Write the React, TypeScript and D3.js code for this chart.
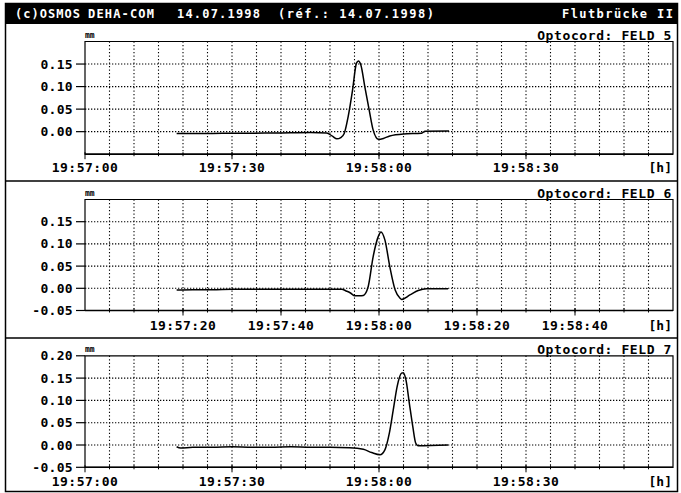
import React, { useEffect, useRef } from "react";
import * as d3 from "d3";

const width = 681;
const height = 493;

// time axis (same for all three fields)
const timeStart = "19:57:00";
const timeEnd = "19:59:00";

// seconds after 19:57:00 and displacement in mm
const feld5Seconds = [18.7, 22, 26, 30, 34, 38, 42, 46, 49.3, 50.5, 51.4, 52.2, 52.9, 53.7, 54.6, 55.4, 55.8, 56.3, 57.1, 58.0, 58.8, 59.9, 60.9, 62.2, 65.0, 68.7, 69.4, 74.3];
const feld5Values = [-0.004, -0.004, -0.004, -0.0035, -0.0035, -0.003, -0.0025, -0.002, -0.003, -0.01, -0.016, -0.013, -0.004, 0.033, 0.092, 0.152, 0.157, 0.148, 0.1, 0.048, 0.004, -0.017, -0.015, -0.0095, -0.005, -0.0035, 0.001, 0.0015];

const feld6Seconds = [18.7, 22, 26, 30, 34, 38, 42, 46, 50, 52.4, 53.3, 54.1, 55.1, 56.0, 56.8, 57.8, 58.8, 59.9, 60.4, 61.2, 62.2, 63.3, 64.3, 64.6, 66.3, 68.0, 69.7, 74.1];
const feld6Values = [-0.004, -0.003, -0.003, -0.002, -0.002, -0.002, -0.002, -0.002, -0.002, -0.002, -0.006, -0.01, -0.017, -0.017, -0.016, 0.004, 0.071, 0.118, 0.127, 0.109, 0.049, -0.004, -0.0225, -0.025, -0.015, -0.005, -0.001, -0.001];

const feld7Seconds = [18.7, 19.5, 22, 26, 30, 34, 38, 42, 46, 50, 54, 56.8, 58.5, 60.2, 61.2, 62.1, 62.9, 63.7, 64.6, 64.96, 65.5, 66.2, 66.9, 67.5, 68.0, 74.1];
const feld7Values = [-0.004, -0.007, -0.005, -0.005, -0.004, -0.005, -0.005, -0.004, -0.005, -0.005, -0.006, -0.0097, -0.017, -0.022, -0.011, 0.026, 0.078, 0.131, 0.161, 0.162, 0.146, 0.093, 0.041, 0.004, -0.0015, 0.0];

// tick labels
const feld5TimeLabels = ["19:57:00", "19:57:30", "19:58:00", "19:58:30"];
const feld6TimeLabels = ["19:57:20", "19:57:40", "19:58:00", "19:58:20", "19:58:40"];
const feld7TimeLabels = ["19:57:00", "19:57:30", "19:58:00", "19:58:30"];
const feld5YTicks = [0, 0.05, 0.1, 0.15];
const feld6YTicks = [-0.05, 0, 0.05, 0.1, 0.15];
const feld7YTicks = [-0.05, 0, 0.05, 0.1, 0.15, 0.2];

const font = "'DejaVu Sans Mono', 'Liberation Mono', monospace";
const parseTime = d3.timeParse("%H:%M:%S");

function App() {
  const ref = useRef<SVGSVGElement>(null);

  useEffect(() => {
    const svg = d3.select(ref.current);
    svg.selectAll("*").remove();

    const t0 = parseTime(timeStart)!;
    const t1 = parseTime(timeEnd)!;
    const left = 85;
    const right = 673;

    // outer frame + header
    svg.append("rect")
      .attr("x", 5.5).attr("y", 3.5).attr("width", 672).attr("height", 488)
      .attr("fill", "none").attr("stroke", "#000").attr("stroke-width", 1.5);
    svg.append("rect")
      .attr("x", 6).attr("y", 4).attr("width", 671).attr("height", 20)
      .attr("fill", "#000");

    const header = [
      { text: "(c)OSMOS", x: 15, len: 65 },
      { text: "DEHA-COM", x: 88, len: 66 },
      { text: "14.07.1998", x: 177, len: 83 },
      { text: "(réf.: 14.07.1998)", x: 278, len: 156 },
      { text: "Flutbrücke II", x: 562, len: 111 },
    ];
    svg.append("g")
      .selectAll("text")
      .data(header)
      .join("text")
      .attr("x", (d) => d.x)
      .attr("y", 18)
      .attr("textLength", (d) => d.len)
      .attr("lengthAdjust", "spacing")
      .attr("fill", "#fff")
      .style("font", `bold 12px ${font}`)
      .text((d) => d.text);

    // separators between the fields
    [181, 338].forEach((y) => {
      svg.append("line")
        .attr("x1", 5).attr("x2", 677).attr("y1", y).attr("y2", y)
        .attr("stroke", "#000").attr("stroke-width", 1.3);
    });

    const panels = [
      { title: "Optocord: FELD 5", secs: feld5Seconds, vals: feld5Values, labels: feld5TimeLabels, yTicks: feld5YTicks, top: 41.5, bottom: 154.2, labelY: 171.5 },
      { title: "Optocord: FELD 6", secs: feld6Seconds, vals: feld6Values, labels: feld6TimeLabels, yTicks: feld6YTicks, top: 199.5, bottom: 310.5, labelY: 330 },
      { title: "Optocord: FELD 7", secs: feld7Seconds, vals: feld7Values, labels: feld7TimeLabels, yTicks: feld7YTicks, top: 355.8, bottom: 467.3, labelY: 486 },
    ];

    panels.forEach((p) => {
      const g = svg.append("g");
      const x = d3.scaleTime().domain([t0, t1]).range([left, right]);
      const y = d3.scaleLinear().domain([-0.05, 0.2]).range([p.bottom, p.top]);

      const gridTimes = x.ticks(d3.timeSecond.every(5)!).filter((d) => +d > +t0 && +d < +t1);
      const labelTimes = p.labels.map((s) => parseTime(s)!);

      // dotted grid
      g.selectAll(".vgrid")
        .data(gridTimes)
        .join("line")
        .attr("x1", (d) => x(d)).attr("x2", (d) => x(d))
        .attr("y1", p.top).attr("y2", p.bottom)
        .attr("stroke", "#000").attr("stroke-width", 1.1)
        .attr("stroke-dasharray", "1.3 2.2");
      g.selectAll(".hgrid")
        .data([0, 0.05, 0.1, 0.15])
        .join("line")
        .attr("x1", left).attr("x2", right)
        .attr("y1", (d) => y(d)).attr("y2", (d) => y(d))
        .attr("stroke", "#000").attr("stroke-width", 1.1)
        .attr("stroke-dasharray", "1.3 1.7");

      // frame
      g.append("path")
        .attr("d", `M${left},${p.bottom}V${p.top}H${right}V${p.bottom}Z`)
        .attr("fill", "none").attr("stroke", "#000").attr("stroke-width", 1.2);
      g.append("line")
        .attr("x1", left).attr("x2", right).attr("y1", p.bottom).attr("y2", p.bottom)
        .attr("stroke", "#000").attr("stroke-width", 1.6);

      // x ticks
      g.selectAll(".xtick")
        .data(gridTimes)
        .join("line")
        .attr("x1", (d) => x(d)).attr("x2", (d) => x(d))
        .attr("y1", p.bottom - 2).attr("y2", p.bottom + 2)
        .attr("stroke", "#000");
      g.selectAll(".xmajor")
        .data(labelTimes)
        .join("line")
        .attr("x1", (d) => x(d)).attr("x2", (d) => x(d))
        .attr("y1", p.bottom - 2).attr("y2", p.bottom + 5)
        .attr("stroke", "#000");
      g.selectAll(".xlabel")
        .data(labelTimes)
        .join("text")
        .attr("x", (d) => x(d))
        .attr("y", p.labelY)
        .attr("text-anchor", "middle")
        .style("font", `bold 13px ${font}`)
        .style("letter-spacing", "0.5px")
        .text((d) => d3.timeFormat("%H:%M:%S")(d));
      g.append("text")
        .attr("x", 672).attr("y", p.labelY)
        .attr("text-anchor", "end")
        .style("font", `bold 13px ${font}`)
        .text("[h]");

      // y ticks
      g.selectAll(".ytick")
        .data(p.yTicks)
        .join("line")
        .attr("x1", left - 9).attr("x2", left)
        .attr("y1", (d) => y(d)).attr("y2", (d) => y(d))
        .attr("stroke", "#000").attr("stroke-width", 1.2);
      g.selectAll(".ylabel")
        .data(p.yTicks)
        .join("text")
        .attr("x", 73)
        .attr("y", (d) => y(d) + 4.5)
        .attr("text-anchor", "end")
        .style("font", `bold 13px ${font}`)
        .style("letter-spacing", "0.3px")
        .text((d) => d3.format(".2f")(d).replace("−", "-"));

      // unit and title
      g.append("text")
        .attr("x", left).attr("y", p.top - 3.5)
        .style("font", `bold 8px ${font}`)
        .text("mm");
      g.append("text")
        .attr("x", 672).attr("y", p.top - 1.5)
        .attr("text-anchor", "end")
        .style("font", `bold 13px ${font}`)
        .style("letter-spacing", "0.6px")
        .text(p.title);

      // measurement
      const pts = p.secs.map((s, i) => ({ t: new Date(+t0 + s * 1000), v: p.vals[i] }));
      const line = d3.line<{ t: Date; v: number }>()
        .x((d) => x(d.t))
        .y((d) => y(d.v))
        .curve(d3.curveMonotoneX);
      g.append("path")
        .attr("d", line(pts))
        .attr("fill", "none")
        .attr("stroke", "#000")
        .attr("stroke-width", 1.5);
    });
  }, []);

  return (
    <svg
      ref={ref}
      width={width}
      height={height}
      style={{ position: "absolute", left: 0, top: 0, background: "#fff" }}
    />
  );
}

export default App;
